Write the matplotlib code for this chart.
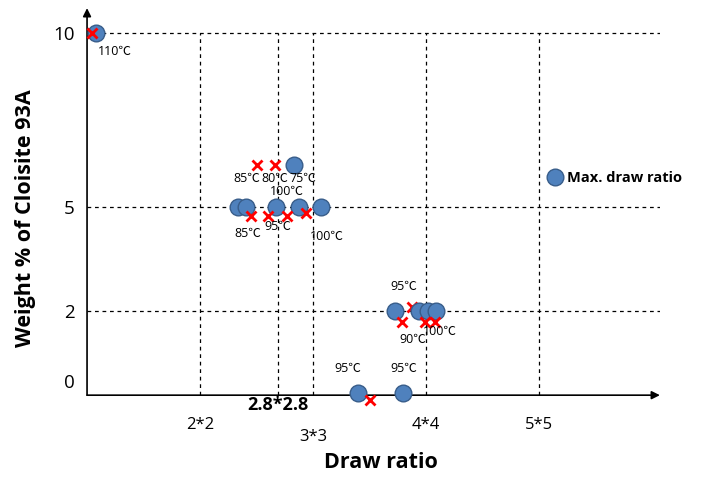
import matplotlib
matplotlib.use("Agg")
import matplotlib.pyplot as plt

plt.rcParams["font.family"] = ["Open Sans", "Noto Sans CJK KR", "DejaVu Sans"]

BLUE = "#4F81BD"
EDGE = "#385D8A"
RED = "#FF0000"

# draw ratio positions (schematic axis, 1 = origin)
circle_x = [1.08, 2.34, 2.41, 2.67, 2.88, 3.07, 2.83, 3.73, 3.94, 4.02, 4.09, 3.40, 3.80]
circle_y = [10, 5, 5, 5, 5, 5, 6.2, 2, 2, 2, 2, -0.36, -0.36]

cross_x = [1.04, 2.50, 2.66, 2.45, 2.60, 2.77, 2.94, 3.79, 3.99, 4.08, 3.50]
cross_y = [10, 6.2, 6.2, 4.74, 4.74, 4.74, 4.80, 1.68, 1.68, 1.68, -0.56]
hidden_x = [3.88]
hidden_y = [2.1]

temp_labels = ["110℃", "85℃", "80℃", "75℃", "100℃", "85℃", "95℃", "100℃",
               "95℃", "90℃", "100℃", "95℃", "95℃"]
temp_x = [1.25, 2.41, 2.66, 2.91, 2.77, 2.42, 2.69, 3.12, 3.80, 3.88, 4.12, 3.31, 3.80]
temp_y = [9.45, 5.80, 5.80, 5.80, 5.43, 4.22, 4.43, 4.14, 2.70, 1.18, 1.41, 0.34, 0.34]

grid_x = [2, 2.69, 3, 4, 5]
grid_x_labels = ["2*2", "2.8*2.8", "3*3", "4*4", "5*5"]
grid_x_offset = [-30, -10, -42, -30, -30]
grid_y = [2, 5, 10]
ytick_vals = [0, 2, 5, 10]

fig = plt.figure(figsize=(7.02, 4.79), dpi=100)
ax = fig.add_axes([0.124, 0.175, 0.816, 0.808])
ax.set_xlim(1, 6.07)
ax.set_ylim(-0.42, 10.7)

for s in ax.spines.values():
    s.set_visible(False)

# axis arrows
ax.annotate("", xy=(1, 0), xytext=(0, 0), xycoords="axes fraction",
            arrowprops=dict(arrowstyle="-|>", color="black", lw=1.2,
                            mutation_scale=12, shrinkA=0, shrinkB=0))
ax.annotate("", xy=(0, 1), xytext=(0, 0), xycoords="axes fraction",
            arrowprops=dict(arrowstyle="-|>", color="black", lw=1.2,
                            mutation_scale=12, shrinkA=0, shrinkB=0))

# dashed guide lines
ax.vlines(grid_x, -0.42, 10, colors="black", linestyles=(0, (3, 3)), lw=0.9, zorder=1)
ax.hlines(grid_y, 1, 6.07, colors="black", linestyles=(0, (3, 3)), lw=0.9, zorder=1)

ax.plot(hidden_x, hidden_y, "x", color=RED, ms=7, mew=2, zorder=2, clip_on=False)
ax.plot(circle_x, circle_y, "o", color=BLUE, mec=EDGE, mew=1, ms=12,
        zorder=3, clip_on=False)
ax.plot(cross_x, cross_y, "x", color=RED, ms=7, mew=2, zorder=4, clip_on=False)

for t, x, y in zip(temp_labels, temp_x, temp_y):
    ax.text(x, y, t, ha="center", va="center", fontsize=9, zorder=5)

# x tick labels (staggered)
ax.set_xticks([])
for x, lab, off in zip(grid_x, grid_x_labels, grid_x_offset):
    bold = lab == "2.8*2.8"
    ax.annotate(lab, xy=(x, 0), xycoords=("data", "axes fraction"),
                xytext=(0, off * 0.72), textcoords="offset points",
                ha="center", va="center", fontsize=13 if bold else 12,
                fontweight="bold" if bold else "normal")

ax.set_yticks(ytick_vals)
ax.set_yticklabels([str(v) for v in ytick_vals], fontsize=13.5)
ax.tick_params(axis="y", length=0, pad=9)

ax.legend([plt.Line2D([], [], marker="o", ls="", color=BLUE, mec=EDGE, ms=12)],
          ["Max. draw ratio"], frameon=False, loc="center left",
          bbox_to_anchor=(0.777, 0.56), handletextpad=0.1, handlelength=1.4,
          prop=dict(size=10.5, weight="bold"))

fig.text(0.543, 0.035, "Draw ratio", ha="center", va="center",
         fontsize=15.5, fontweight="bold")
fig.text(0.036, 0.545, "Weight % of Cloisite 93A", ha="center", va="center",
         rotation=90, fontsize=15.5, fontweight="bold")

fig.savefig("out.png", dpi=100)
